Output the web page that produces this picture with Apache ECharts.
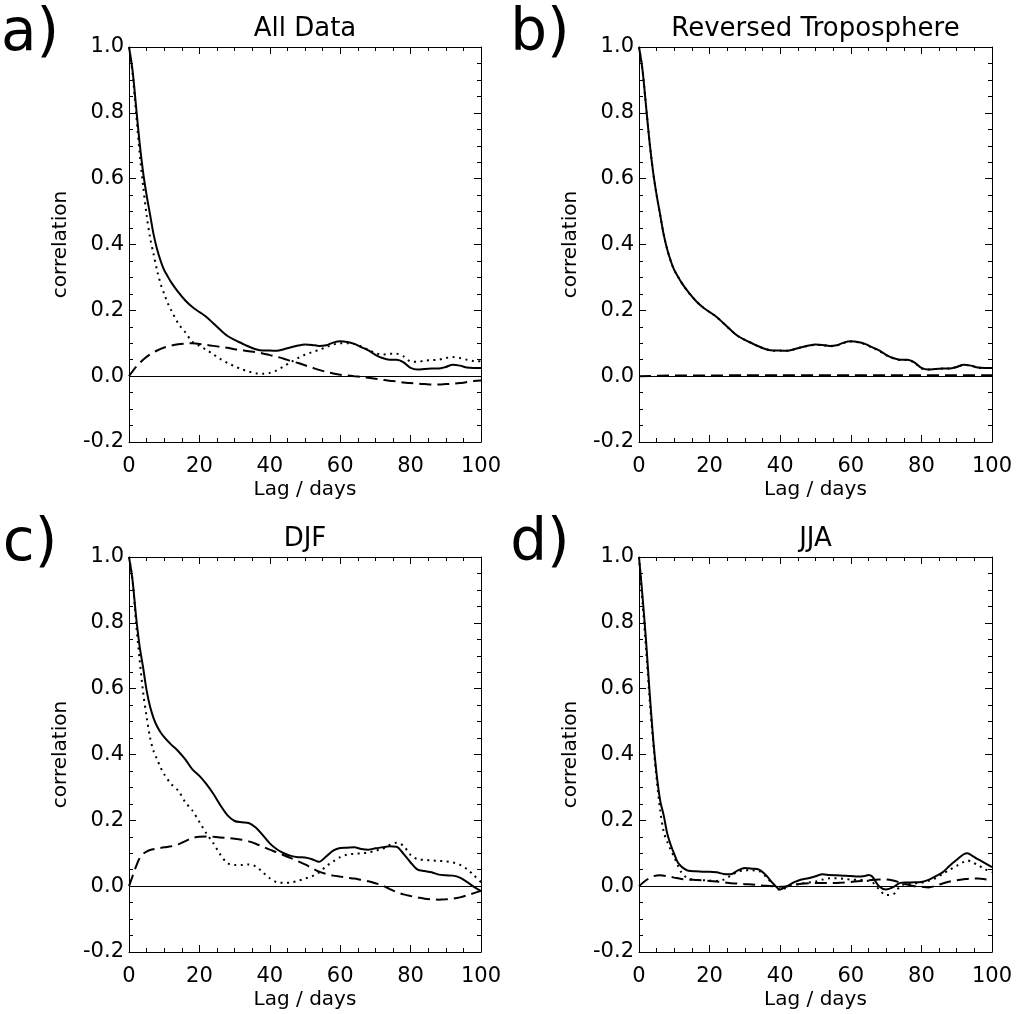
<!DOCTYPE html>
<html>
<head>
<meta charset="utf-8">
<script src="https://cdn.jsdelivr.net/npm/echarts@6/dist/echarts.min.js"></script>
<style>html,body{margin:0;padding:0;background:#fff;}#chart{width:1018px;height:1014px;}</style>
</head>
<body>
<div id="chart"></div>
<script>
// ---- data ----
const panelTitles = ['All Data', 'Reversed Troposphere', 'DJF', 'JJA'];
const panelLetters = ['a)', 'b)', 'c)', 'd)'];
const yTicks = [-0.2, 0.0, 0.2, 0.4, 0.6, 0.8, 1.0];
const xTicks = [0, 20, 40, 60, 80, 100];

// panel a
const aLag = [0,1,2,3,4,5,6,7,8,9,10,11,12,14,16,18,20,22,24,26,28,30,32,34,36,38,40,42,44,46,48,50,52,54,56,58,60,62,64,66,68,70,72,74,76,78,80,82,84,86,88,90,92,94,96,98,100];
const aSolid = [1.0,0.93,0.82,0.71,0.62,0.55,0.49,0.43,0.385,0.35,0.322,0.303,0.285,0.255,0.23,0.21,0.195,0.18,0.16,0.14,0.122,0.11,0.1,0.09,0.082,0.078,0.078,0.077,0.082,0.088,0.093,0.096,0.095,0.092,0.094,0.102,0.106,0.104,0.098,0.088,0.078,0.065,0.055,0.05,0.05,0.042,0.025,0.02,0.022,0.023,0.023,0.028,0.035,0.032,0.026,0.025,0.025];
const aDotted = [1.0,0.92,0.80,0.68,0.58,0.49,0.42,0.37,0.32,0.28,0.25,0.222,0.2,0.16,0.133,0.105,0.092,0.08,0.066,0.052,0.04,0.03,0.021,0.014,0.009,0.007,0.01,0.018,0.03,0.043,0.055,0.065,0.073,0.08,0.088,0.096,0.1,0.1,0.098,0.09,0.08,0.07,0.066,0.068,0.068,0.06,0.045,0.044,0.047,0.049,0.05,0.055,0.058,0.055,0.05,0.046,0.045];
const aDashLag = [0,2,4,6,8,10,12,14,16,18,20,22,24,26,28,30,32,34,36,38,40,42,44,46,48,50,52,54,56,58,60,62,64,66,68,70,72,74,76,78,80,82,84,86,88,90,92,94,96,98,100];
const aDashed = [0,0.028,0.05,0.066,0.078,0.087,0.093,0.097,0.099,0.1,0.098,0.095,0.092,0.089,0.086,0.082,0.079,0.076,0.073,0.069,0.064,0.059,0.053,0.046,0.04,0.033,0.026,0.019,0.013,0.008,0.004,0.002,0.0,-0.002,-0.005,-0.008,-0.011,-0.014,-0.016,-0.019,-0.021,-0.023,-0.024,-0.025,-0.025,-0.024,-0.023,-0.021,-0.018,-0.015,-0.013];

// panel b
const bLag = aLag;
const bSolid = [1.0,0.93,0.82,0.71,0.62,0.55,0.49,0.43,0.385,0.35,0.322,0.303,0.285,0.255,0.23,0.21,0.195,0.18,0.16,0.14,0.122,0.11,0.1,0.09,0.082,0.078,0.078,0.077,0.082,0.088,0.093,0.096,0.095,0.092,0.094,0.102,0.106,0.104,0.098,0.088,0.078,0.065,0.055,0.05,0.05,0.042,0.025,0.02,0.022,0.023,0.023,0.028,0.035,0.032,0.026,0.025,0.025];
const bDotted = [1.0,0.93,0.82,0.71,0.62,0.55,0.49,0.43,0.385,0.35,0.322,0.303,0.285,0.255,0.23,0.21,0.195,0.18,0.16,0.14,0.122,0.11,0.1,0.09,0.082,0.077,0.077,0.077,0.082,0.088,0.092,0.095,0.094,0.091,0.093,0.101,0.105,0.103,0.097,0.087,0.077,0.064,0.054,0.049,0.049,0.041,0.024,0.02,0.022,0.023,0.023,0.028,0.034,0.032,0.026,0.025,0.025];
const bDashLag = [0,10,20,30,40,50,60,70,80,90,100];
const bDashed = [0.0,0.002,0.002,0.003,0.003,0.003,0.003,0.003,0.003,0.003,0.003];

// panel c
const cLag = [0,1,2,3,4,5,6,7,8,9,10,12,14,16,18,20,22,24,26,28,30,32,34,36,38,40,42,44,46,48,50,52,54,56,58,60,62,64,66,68,70,72,74,76,78,80,82,84,86,88,90,92,94,96,98,100];
const cSolid = [1.0,0.93,0.82,0.73,0.665,0.595,0.545,0.51,0.485,0.467,0.453,0.43,0.41,0.385,0.355,0.335,0.31,0.28,0.245,0.215,0.198,0.194,0.192,0.178,0.155,0.13,0.112,0.1,0.092,0.088,0.087,0.082,0.074,0.09,0.108,0.116,0.117,0.118,0.113,0.111,0.115,0.118,0.121,0.12,0.098,0.072,0.05,0.046,0.042,0.035,0.033,0.032,0.026,0.013,-0.002,-0.015];
const cDotted = [1.0,0.93,0.8,0.69,0.59,0.515,0.45,0.41,0.385,0.36,0.34,0.31,0.29,0.255,0.23,0.195,0.16,0.13,0.095,0.07,0.064,0.064,0.066,0.06,0.042,0.024,0.012,0.01,0.011,0.016,0.023,0.03,0.042,0.06,0.075,0.088,0.096,0.098,0.1,0.102,0.108,0.113,0.125,0.132,0.122,0.095,0.082,0.08,0.078,0.077,0.075,0.072,0.065,0.052,0.033,0.012];
const cDashLag = [0,1,2,3,4,5,6,8,10,12,14,16,18,20,22,24,26,28,30,32,34,36,38,40,42,44,46,48,50,52,54,56,58,60,62,64,66,68,70,72,74,76,78,80,82,84,86,88,90,92,94,96,98,100];
const cDashed = [0,0.03,0.06,0.085,0.098,0.105,0.11,0.114,0.118,0.121,0.127,0.137,0.146,0.15,0.151,0.15,0.148,0.146,0.144,0.141,0.136,0.129,0.12,0.111,0.103,0.094,0.085,0.076,0.066,0.055,0.044,0.037,0.032,0.029,0.026,0.023,0.019,0.015,0.009,0.002,-0.008,-0.018,-0.025,-0.03,-0.034,-0.038,-0.04,-0.041,-0.04,-0.038,-0.034,-0.028,-0.021,-0.014];

// panel d
const dLag = [0,1,2,3,4,5,6,7,8,9,10,11,12,13,14,16,18,20,22,24,26,28,30,32,34,36,38,40,42,44,46,48,50,52,54,56,58,60,62,64,65,66,68,70,72,74,76,78,80,82,84,86,88,90,92,93,94,96,98,100];
const dSolid = [1.0,0.88,0.745,0.59,0.45,0.34,0.26,0.215,0.16,0.125,0.097,0.072,0.06,0.052,0.047,0.045,0.044,0.044,0.042,0.037,0.036,0.048,0.055,0.053,0.05,0.033,0.008,-0.01,0.0,0.012,0.02,0.024,0.03,0.036,0.034,0.033,0.032,0.031,0.029,0.031,0.034,0.03,0.0,-0.01,-0.003,0.01,0.011,0.012,0.013,0.019,0.03,0.042,0.062,0.08,0.097,0.1,0.095,0.082,0.07,0.058];
const dDotted = [1.0,0.86,0.72,0.57,0.44,0.325,0.23,0.165,0.135,0.11,0.088,0.063,0.042,0.03,0.023,0.019,0.018,0.017,0.016,0.02,0.032,0.044,0.048,0.048,0.046,0.028,0.006,-0.012,-0.003,0.004,0.008,0.011,0.014,0.02,0.024,0.024,0.022,0.02,0.019,0.018,0.016,0.014,-0.01,-0.027,-0.025,0.0,0.008,0.009,0.01,0.016,0.024,0.037,0.05,0.062,0.074,0.078,0.075,0.064,0.052,0.042];
const dDashLag = [0,2,4,6,8,10,12,14,16,18,20,22,24,26,28,30,32,34,36,38,40,42,44,46,48,50,52,54,56,58,60,62,64,66,68,70,72,74,76,78,80,82,84,86,88,90,92,94,96,98,100];
const dDashed = [0,0.018,0.03,0.033,0.03,0.026,0.022,0.02,0.019,0.018,0.016,0.014,0.012,0.009,0.008,0.006,0.005,0.003,0.001,0.0,-0.002,0.0,0.004,0.007,0.009,0.01,0.01,0.01,0.01,0.011,0.013,0.015,0.017,0.019,0.02,0.02,0.017,0.011,0.005,0.0,-0.002,-0.004,0.001,0.008,0.014,0.018,0.021,0.023,0.023,0.021,0.018];

// ---- chart ----
const FONT = 'DejaVu Sans';
const panels = [
  {lag: aLag, solid: aSolid, dotted: aDotted, dashLag: aDashLag, dashed: aDashed},
  {lag: bLag, solid: bSolid, dotted: bDotted, dashLag: bDashLag, dashed: bDashed},
  {lag: cLag, solid: cSolid, dotted: cDotted, dashLag: cDashLag, dashed: cDashed},
  {lag: dLag, solid: dSolid, dotted: dDotted, dashLag: dDashLag, dashed: dDashed}
];
const gridPos = [
  {left: 129, top: 47, width: 352, height: 395},
  {left: 639, top: 47, width: 353, height: 395},
  {left: 129, top: 557, width: 352, height: 395},
  {left: 639, top: 557, width: 353, height: 395}
];
const zip = (xs, ys) => xs.map((x, i) => [x, ys[i]]);

const grids = [], xAxes = [], yAxes = [], series = [], graphics = [];
const lineC = '#000';
gridPos.forEach((g, i) => {
  grids.push(Object.assign({containLabel: false}, g));
  const tickCommon = {inside: true, length: 7, lineStyle: {color: lineC, width: 1}};
  const minorCommon = {show: true, splitNumber: 4, length: 4, lineStyle: {color: lineC, width: 1}};
  const axisLineC = {show: true, onZero: false, lineStyle: {color: lineC, width: 1}};
  xAxes.push({
    type: 'value', gridIndex: i, position: 'bottom', min: 0, max: 100, interval: 20,
    axisLine: axisLineC, axisTick: tickCommon, minorTick: minorCommon,
    splitLine: {show: false}, minorSplitLine: {show: false},
    axisLabel: {color: '#000', fontFamily: FONT, fontSize: 21, margin: 14, showMinLabel: true, showMaxLabel: true,
      formatter: v => xTicks.includes(v) ? String(v) : ''},
    name: 'Lag / days', nameLocation: 'middle', nameGap: 38,
    nameTextStyle: {color: '#000', fontFamily: FONT, fontSize: 20}
  });
  xAxes.push({
    type: 'value', gridIndex: i, position: 'top', min: 0, max: 100, interval: 20,
    axisLine: axisLineC, axisTick: tickCommon, minorTick: minorCommon,
    splitLine: {show: false}, axisLabel: {show: false}
  });
  yAxes.push({
    type: 'value', gridIndex: i, position: 'left', min: -0.2, max: 1.0, interval: 0.2,
    axisLine: axisLineC, axisTick: tickCommon, minorTick: minorCommon,
    splitLine: {show: false}, minorSplitLine: {show: false},
    axisLabel: {color: '#000', fontFamily: FONT, fontSize: 21, margin: 5, showMinLabel: true, showMaxLabel: true,
      formatter: v => {
        const t = yTicks.find(k => Math.abs(k - v) < 1e-6);
        return t === undefined ? '' : t.toFixed(1);
      }},
    name: 'correlation', nameLocation: 'middle', nameGap: 58,
    nameTextStyle: {color: '#000', fontFamily: FONT, fontSize: 20}
  });
  yAxes.push({
    type: 'value', gridIndex: i, position: 'right', min: -0.2, max: 1.0, interval: 0.2,
    axisLine: axisLineC, axisTick: tickCommon, minorTick: minorCommon,
    splitLine: {show: false}, axisLabel: {show: false}
  });
  const p = panels[i];
  const xi = i * 2, yi = i * 2;
  series.push({
    type: 'line', xAxisIndex: xi, yAxisIndex: yi, data: zip(p.dashLag, p.dashed),
    showSymbol: false, smooth: 0.3, silent: true,
    lineStyle: {color: '#000', width: 2, type: [12, 6], cap: 'butt'}
  });
  series.push({
    type: 'line', xAxisIndex: xi, yAxisIndex: yi, data: zip(p.lag, p.dotted),
    showSymbol: false, smooth: 0.3, silent: true,
    lineStyle: {color: '#000', width: 2, type: [2, 4.5], cap: 'butt'}
  });
  series.push({
    type: 'line', xAxisIndex: xi, yAxisIndex: yi, data: zip(p.lag, p.solid),
    showSymbol: false, smooth: 0.3, silent: true,
    lineStyle: {color: '#000', width: 2, type: 'solid'},
    markLine: {silent: true, symbol: 'none', label: {show: false}, animation: false,
      lineStyle: {color: '#000', width: 1, type: 'solid'}, data: [{yAxis: 0}]}
  });
  const cx = g.left + g.width / 2;
  graphics.push({
    type: 'text', style: {text: panelTitles[i], x: cx, y: g.top - 17.5, align: 'center', verticalAlign: 'middle',
      font: '26px "' + FONT + '"', fill: '#000'}
  });
  graphics.push({
    type: 'text', style: {text: panelLetters[i], x: g.left - 99, y: g.top - 12, align: 'center', verticalAlign: 'middle',
      font: '58px "' + FONT + '"', fill: '#000'}
  });
});

const chart = echarts.init(document.getElementById('chart'), null, {renderer: 'canvas'});
chart.setOption({
  animation: false,
  backgroundColor: '#fff',
  grid: grids, xAxis: xAxes, yAxis: yAxes, series: series,
  graphic: graphics
});
</script>
</body>
</html>
